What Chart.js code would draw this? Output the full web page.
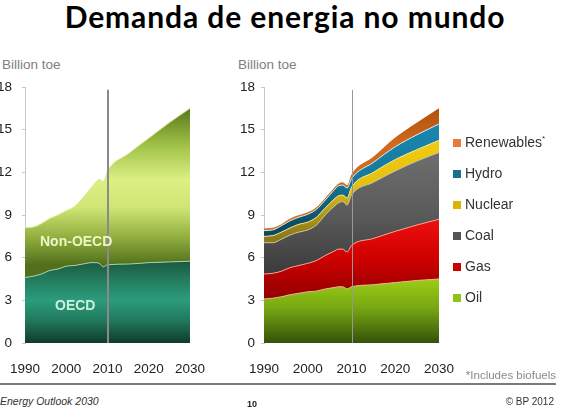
<!DOCTYPE html>
<html>
<head>
<meta charset="utf-8">
<script src="https://cdn.jsdelivr.net/npm/chart.js@4/dist/chart.umd.min.js"></script>
<style>
  body { margin: 0; width: 562px; height: 419px; background: #fff; position: relative; overflow: hidden;
         font-family: "Liberation Sans", Arial, sans-serif; color: #333; }
  #title { position: absolute; left: 0; width: 570px; top: 1px; text-align: center;
           font-family: Lato, sans-serif; font-weight: 700; font-size: 30px; line-height: 30px;
           letter-spacing: 0.9px; color: #000; }
  .unit { position: absolute; top: 57px; font-size: 13.5px; color: #808080; }
  canvas { position: absolute; top: 60px; }
  .inlabel { position: absolute; font-weight: bold; font-size: 14px; }
  #legend { position: absolute; left: 453px; top: 127px; }
  .item { height: 31px; line-height: 31px; font-size: 14px; color: #333; white-space: nowrap; }
  .sw { display: inline-block; width: 8px; height: 8px; margin-right: 4px; vertical-align: 0px; }
  .item sup { font-size: 8px; vertical-align: 6px; line-height: 0; }
  #note { position: absolute; right: 6px; top: 369px; font-size: 11.5px; color: #8a8a8a; }
  #rule { position: absolute; left: 0; width: 556px; top: 383px; height: 2px; background: #7a7a7a; }
  #foot1 { position: absolute; left: 0; top: 395px; font-size: 10.5px; font-style: italic; color: #333; }
  #page { position: absolute; left: 247px; top: 399px; font-size: 9px; font-weight: bold; color: #222; }
  #copy { position: absolute; right: 8px; top: 396px; font-size: 10px; color: #333; }
</style>
</head>
<body>
<div id="title">Demanda de energia no mundo</div>
<div class="unit" style="left:2px">Billion toe</div>
<div class="unit" style="left:238px">Billion toe</div>
<canvas id="regionChart" width="215" height="320" style="left:0"></canvas>
<canvas id="fuelChart" width="347" height="320" style="left:215px"></canvas>
<div class="inlabel" style="left:40px;top:233px;color:#eef6c8">Non-OECD</div>
<div class="inlabel" style="left:55px;top:297px;color:#cdf0da">OECD</div>
<div id="legend"></div>
<div id="note">*Includes biofuels</div>
<div id="rule"></div>
<div id="foot1">Energy Outlook 2030</div>
<div id="page">10</div>
<div id="copy">© BP 2012</div>

<script>
// Years (history to 2010, projection after)
const years = [1990, 1992, 1994, 1996, 1998, 2000, 2002, 2004, 2006, 2007, 2008, 2009, 2010, 2015, 2020, 2025, 2030];

// Left chart: demand by region (billion toe, each layer's own thickness)
const oecd    = [4.6, 4.7, 4.85, 5.1, 5.2, 5.4, 5.45, 5.55, 5.65, 5.65, 5.6, 5.35, 5.5, 5.55, 5.65, 5.7, 5.75];
const nonOecd = [3.5, 3.45, 3.55, 3.65, 3.8, 3.9, 4.15, 4.65, 5.25, 5.6, 5.9, 6.0, 6.6, 7.75, 8.75, 9.8, 10.75];

// Right chart: demand by fuel
const oil        = [3.1, 3.15, 3.25, 3.4, 3.5, 3.6, 3.65, 3.8, 3.9, 3.95, 3.95, 3.8, 3.95, 4.1, 4.25, 4.4, 4.5];
const gas        = [1.75, 1.75, 1.8, 1.9, 1.95, 2.0, 2.15, 2.35, 2.55, 2.65, 2.65, 2.6, 2.9, 3.25, 3.6, 3.9, 4.2];
const coal       = [2.2, 2.15, 2.25, 2.3, 2.35, 2.35, 2.5, 2.85, 3.15, 3.25, 3.35, 3.3, 3.55, 3.95, 4.25, 4.5, 4.7];
const nuclear    = [0.45, 0.5, 0.5, 0.5, 0.55, 0.55, 0.55, 0.5, 0.5, 0.5, 0.45, 0.5, 0.55, 0.7, 0.8, 0.8, 0.85];
const hydro      = [0.4, 0.4, 0.45, 0.5, 0.5, 0.55, 0.55, 0.55, 0.65, 0.7, 0.7, 0.7, 0.6, 0.7, 0.9, 1.05, 1.15];
const renewables = [0.15, 0.15, 0.1, 0.15, 0.15, 0.15, 0.15, 0.15, 0.15, 0.15, 0.2, 0.2, 0.3, 0.4, 0.65, 0.85, 1.1];

const fuelNames = ['Oil', 'Gas', 'Coal', 'Nuclear', 'Hydro', 'Renewables'];
const fuelSwatches = ['#8cc21a', '#cc0000', '#555555', '#d8b400', '#1a6f8e', '#e87c3e'];

const yTicks = [0, 3, 6, 9, 12, 15, 18];
const xTicks = [1990, 2000, 2010, 2020, 2030];
const splitYear = 2010;

function points(values) {
    return years.map((yr, i) => ({ x: yr, y: values[i] }));
}

// vertical gradient, stops given as [value, colour] from top to bottom
function grad(stops) {
    return function(context) {
        const chart = context.chart;
        if (!chart.chartArea) return stops[0][1];
        const y = chart.scales.y;
        const y0 = y.getPixelForValue(stops[0][0]);
        const y1 = y.getPixelForValue(stops[stops.length - 1][0]);
        const g = chart.ctx.createLinearGradient(0, y0, 0, y1);
        stops.forEach(s => g.addColorStop((y.getPixelForValue(s[0]) - y0) / (y1 - y0), s[1]));
        return g;
    };
}

function layer(label, values, fill, border, index) {
    return {
        label: label,
        data: points(values),
        backgroundColor: fill,
        borderColor: border,
        borderWidth: 1,
        pointRadius: 0,
        fill: index === 0 ? 'origin' : '-1',
        cubicInterpolationMode: 'monotone'
    };
}

// draws the grey line separating history from projection
const splitLine = {
    id: 'splitLine',
    afterDatasetsDraw(chart, args, opts) {
        const { ctx, scales: { x, y } } = chart;
        let px = Math.round(x.getPixelForValue(splitYear));
        if (opts.width % 2) px += 0.5;
        ctx.save();
        ctx.strokeStyle = opts.color;
        ctx.lineWidth = opts.width;
        ctx.beginPath();
        ctx.moveTo(px, y.getPixelForValue(17.8));
        ctx.lineTo(px, y.getPixelForValue(0));
        ctx.stroke();
        ctx.restore();
    }
};

function options(yWidth, padRight, labelPad, lineWidth, lineColor) {
    const tickFont = { family: '"Liberation Sans", Arial, sans-serif', size: 13.5 };
    return {
        responsive: false,
        animation: false,
        layout: { padding: { top: 27, right: padRight, left: 0, bottom: 0 } },
        plugins: {
            legend: { display: false },
            tooltip: { enabled: false },
            splitLine: { width: lineWidth, color: lineColor }
        },
        scales: {
            x: {
                type: 'linear',
                min: 1990, max: 2030,
                grid: { display: false },
                border: { display: false },
                afterBuildTicks: scale => { scale.ticks = xTicks.map(v => ({ value: v })); },
                ticks: { color: '#222', font: tickFont, padding: 10, maxRotation: 0, callback: v => String(v) },
                afterFit: scale => { scale.height = 37; }
            },
            y: {
                stacked: true,
                min: 0, max: 18,
                grid: { drawOnChartArea: false, tickLength: 3, color: '#c8c8c8' },
                border: { color: '#c8c8c8' },
                afterBuildTicks: scale => { scale.ticks = yTicks.map(v => ({ value: v })); },
                ticks: { color: '#222', font: tickFont, padding: labelPad },
                afterFit: scale => { scale.width = yWidth; }
            }
        }
    };
}

new Chart(document.getElementById('regionChart'), {
    type: 'line',
    data: {
        datasets: [
            layer('OECD', oecd, grad([[5.8, '#1b5640'], [4.6, '#23785a'], [3.0, '#2b9c7c'], [1.6, '#21795c'], [0, '#0f3b2a']]), '#9fd4a6', 0),
            layer('Non-OECD', nonOecd, grad([[16.6, '#56741c'], [14, '#9dbf45'], [11.5, '#dcef84'], [9.5, '#cfe574'], [7.5, '#93b040'], [5.5, '#52701c']]), '#d6ec8e', 1)
        ]
    },
    options: options(25, 16, 10, 2, '#8a8a8a'),
    plugins: [splitLine]
});

const fuelFills = [
    grad([[4.5, '#9ccc16'], [2.5, '#78a812'], [0, '#34520a']]),
    grad([[8.7, '#ee1010'], [6, '#d00000'], [3, '#8e0000']]),
    grad([[13.4, '#6e6e6e'], [9, '#5a5a5a'], [5, '#3c3c3c']]),
    grad([[14.3, '#f2cc10'], [11, '#e4c010'], [7.5, '#8a7a1a']]),
    grad([[15.4, '#1a88b0'], [11.5, '#16789c'], [8, '#0c4a5e']]),
    grad([[16.5, '#b0500e'], [14, '#d06a1c'], [8, '#d07020']])
];
const fuelBorders = ['#e8b080', '#f0a090', '#c8c090', '#f0e0a0', '#d8e8f0', 'rgba(0,0,0,0)'];
const fuelValues = [oil, gas, coal, nuclear, hydro, renewables];

new Chart(document.getElementById('fuelChart'), {
    type: 'line',
    data: {
        datasets: fuelNames.map((name, i) => layer(name, fuelValues[i], fuelFills[i], fuelBorders[i], i))
    },
    options: options(49, 123, 6, 1, '#999'),
    plugins: [splitLine]
});

// legend, top to bottom in reverse stacking order
const legend = document.getElementById('legend');
for (let i = fuelNames.length - 1; i >= 0; i--) {
    const item = document.createElement('div');
    item.className = 'item';
    item.innerHTML = '<span class="sw" style="background:' + fuelSwatches[i] + '"></span>' +
        fuelNames[i] + (fuelNames[i] === 'Renewables' ? '<sup>*</sup>' : '');
    legend.appendChild(item);
}
</script>
</body>
</html>
